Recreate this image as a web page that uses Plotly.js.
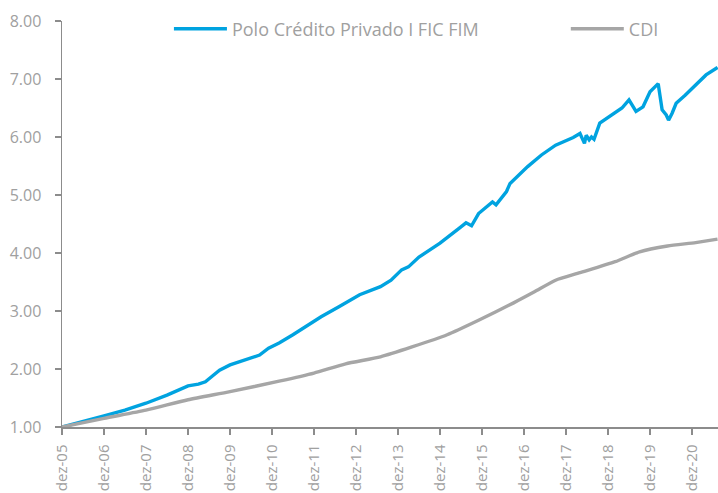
<!DOCTYPE html>
<html>
<head>
<meta charset="utf-8">
<script src="https://cdn.plot.ly/plotly-3.0.1.min.js"></script>
<style>html,body{margin:0;padding:0;background:#fff;}#chart{width:718px;height:493px;}</style>
</head>
<body>
<div id="chart"></div>
<script>
// Fund series (Polo Crédito Privado I FIC FIM)
const fundDates = ['2005-12-01','2006-06-01','2006-12-01','2007-06-01','2007-12-01','2008-06-01','2008-12-01','2009-03-01','2009-05-01','2009-07-01','2009-09-01','2009-12-01','2010-04-01','2010-08-15','2010-11-01','2011-02-01','2011-06-01','2011-11-01','2012-02-01','2012-07-01','2013-01-01','2013-07-01','2013-10-01','2014-01-01','2014-03-01','2014-06-01','2014-12-01','2015-06-01','2015-07-15','2015-09-01','2015-11-01','2016-03-01','2016-04-01','2016-07-01','2016-08-01','2017-01-01','2017-05-01','2017-09-01','2018-02-01','2018-04-01','2018-05-10','2018-05-25','2018-06-20','2018-07-10','2018-08-01','2018-09-20','2019-02-01','2019-04-01','2019-06-01','2019-08-01','2019-10-01','2019-12-01','2020-02-10','2020-03-15','2020-04-20','2020-05-10','2020-06-10','2020-07-15','2020-10-01','2021-01-01','2021-04-01','2021-07-10'];
const fundValues = [1.00,1.09,1.19,1.29,1.41,1.55,1.71,1.74,1.78,1.88,1.98,2.07,2.15,2.24,2.36,2.45,2.59,2.79,2.90,3.07,3.28,3.42,3.53,3.71,3.76,3.93,4.17,4.45,4.52,4.47,4.68,4.88,4.83,5.06,5.20,5.49,5.69,5.86,5.99,6.06,5.89,6.03,5.95,6.00,5.96,6.24,6.41,6.50,6.64,6.44,6.52,6.78,6.92,6.47,6.38,6.29,6.41,6.58,6.72,6.90,7.07,7.20];

// Benchmark series (CDI)
const cdiDates = ['2005-12-01','2006-12-01','2007-12-01','2008-12-01','2009-12-01','2011-02-01','2011-12-01','2012-09-01','2013-07-01','2014-04-01','2015-02-01','2015-11-01','2016-09-01','2017-03-01','2017-09-01','2018-04-01','2019-02-01','2019-09-01','2020-05-01','2021-01-01','2021-07-10'];
const cdiValues = [1.00,1.15,1.29,1.47,1.61,1.79,1.93,2.09,2.21,2.38,2.59,2.84,3.14,3.33,3.53,3.66,3.85,4.02,4.12,4.18,4.24];

// Tick labels
const tickDates = ['2005-12-01','2006-12-01','2007-12-01','2008-12-01','2009-12-01','2010-12-01','2011-12-01','2012-12-01','2013-12-01','2014-12-01','2015-12-01','2016-12-01','2017-12-01','2018-12-01','2019-12-01','2020-12-01'];
const tickLabels = ['dez-05','dez-06','dez-07','dez-08','dez-09','dez-10','dez-11','dez-12','dez-13','dez-14','dez-15','dez-16','dez-17','dez-18','dez-19','dez-20'];
const yTicks = [1,2,3,4,5,6,7,8];
const yLabels = ['1.00','2.00','3.00','4.00','5.00','6.00','7.00','8.00'];

const font = 'Open Sans, Noto Sans, sans-serif';
const txt = '#a0a0a0';

const traces = [
  {x: fundDates, y: fundValues, type: 'scatter', mode: 'lines', name: 'Polo Crédito Privado I FIC FIM',
   line: {color: '#00a3e0', width: 3.4}, legend: 'legend'},
  {x: cdiDates, y: cdiValues, type: 'scatter', mode: 'lines', name: 'CDI',
   line: {color: '#a6a6a6', width: 3.4, shape: 'spline', smoothing: 0.6}, legend: 'legend2'}
];

const legendBase = {orientation: 'h', xanchor: 'left', y: 0.98, yanchor: 'middle', itemwidth: 53,
                    font: {family: font, size: 18, color: txt}, bgcolor: 'rgba(0,0,0,0)'};

const layout = {
  width: 718, height: 493,
  margin: {l: 62, r: 0, t: 21, b: 66},
  paper_bgcolor: '#fff', plot_bgcolor: '#fff',
  showlegend: true,
  legend: Object.assign({}, legendBase, {x: 0.163}),
  legend2: Object.assign({}, legendBase, {x: 0.768}),
  xaxis: {type: 'date', range: ['2005-12-01', '2021-07-14'], tickmode: 'array', tickvals: tickDates, ticktext: tickLabels,
          tickangle: -90, showgrid: false, zeroline: false, showline: true, linecolor: '#8c8c8c', linewidth: 1.5,
          ticks: 'outside', ticklen: 6, tickcolor: '#8c8c8c', tickwidth: 1.5, ticklabelstandoff: 4,
          tickfont: {family: font, size: 15, color: txt}, fixedrange: true},
  yaxis: {range: [1, 8], tickmode: 'array', tickvals: yTicks, ticktext: yLabels, showgrid: false, zeroline: false,
          showline: true, linecolor: '#8c8c8c', linewidth: 1.5, ticks: 'outside', ticklen: 6, tickcolor: '#8c8c8c', tickwidth: 1.5,
          ticklabelstandoff: 10,
          tickfont: {family: font, size: 16, color: txt}, fixedrange: true}
};

Plotly.newPlot('chart', traces, layout, {displayModeBar: false, staticPlot: true});
</script>
</body>
</html>
